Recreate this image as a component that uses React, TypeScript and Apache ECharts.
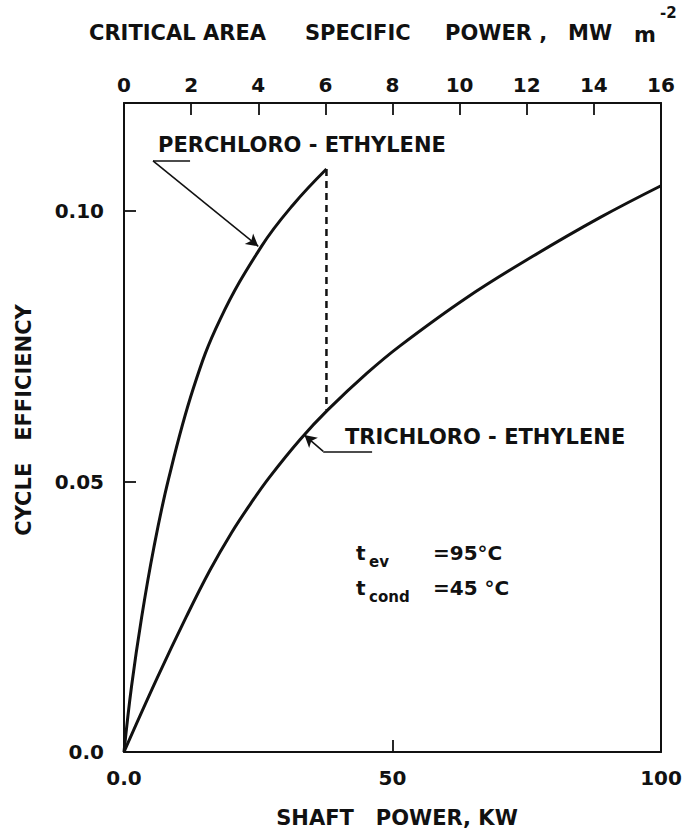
import React, { useEffect, useRef } from "react";
import * as echarts from "echarts";

// Shaft power (kW) vs cycle efficiency
const perchloroX = [0, 1.4, 3.3, 5.5, 8.3, 12.9, 17.9, 25.6, 31.5, 37.7];
const perchloroY = [0, 0.0121, 0.025, 0.0375, 0.0505, 0.0672, 0.08, 0.0935, 0.1012, 0.1078];
const trichloroX = [0, 6.1, 11.7, 16.0, 20.0, 23.5, 27.0, 32.8, 38.0, 45.2, 51.4, 63.8, 76.2, 88.6, 100];
const trichloroY = [0, 0.0135, 0.0252, 0.0336, 0.0405, 0.0458, 0.0507, 0.0578, 0.0633, 0.07, 0.0751, 0.084, 0.0917, 0.0988, 0.1047];
// vertical dashed drop at the end of the perchloro curve
const dropX = [37.7, 37.7];
const dropY = [0.1078, 0.0633];
// leader lines (data coordinates): underline [start, end], pointer [start, end]
const perLeader = [[5.4, 0.1093], [12.3, 0.1093], [5.4, 0.1093], [25.0, 0.0935]];
const triLeader = [[37.1, 0.0556], [46.2, 0.0556], [37.1, 0.0556], [33.6, 0.0586]];

const FONT = "'DejaVu Sans', sans-serif";
const INK = "#111";

export default function App() {
  const ref = useRef<HTMLDivElement>(null);
  useEffect(() => {
    document.body.style.margin = "0";
    const chart = echarts.init(ref.current!, undefined, { renderer: "svg" });
    const lineSeries = (name: string, xs: number[], ys: number[], extra: any = {}) => ({
      name,
      type: "line",
      data: xs.map((x, i) => [x, ys[i]]),
      smooth: 0.4,
      symbol: "none",
      lineStyle: { color: INK, width: 3 },
      ...extra,
    });
    const leader = (pts: number[][]) => ({
      silent: true,
      label: { show: false },
      lineStyle: { color: INK, width: 1.6, type: "solid" },
      symbolSize: [10, 12],
      data: [
        [{ coord: pts[0], symbol: "none" }, { coord: pts[1], symbol: "none" }],
        [{ coord: pts[2], symbol: "none" }, { coord: pts[3], symbol: "arrow" }],
      ],
    });
    const axisLineStyle = { color: INK, width: 2 };
    const tickStyle = { show: true, inside: true, length: 12, lineStyle: { color: INK, width: 1.8 } };
    const lbl = { fontFamily: FONT, color: INK, fontWeight: "bold" as const, fontSize: 20 };
    const t = (text: string, x: number, y: number, fontSize: number, extra: any = {}) => ({
      type: "text",
      x,
      y,
      style: { text, fontSize, fontFamily: FONT, fontWeight: "bold", fill: INK, verticalAlign: "middle", ...extra },
    });
    chart.setOption({
      animation: false,
      backgroundColor: "#fff",
      grid: { left: 124, right: 36, top: 103, bottom: 84 },
      xAxis: [
        {
          type: "value",
          position: "bottom",
          min: 0,
          max: 100,
          interval: 50,
          axisLine: { show: true, onZero: false, lineStyle: axisLineStyle },
          axisTick: tickStyle,
          axisLabel: { ...lbl, margin: 16, formatter: (v: number) => (v === 0 ? "0.0" : String(v)) },
          splitLine: { show: false },
        },
        {
          type: "value",
          position: "top",
          min: 0,
          max: 16,
          interval: 2,
          axisLine: { show: true, onZero: false, lineStyle: axisLineStyle },
          axisTick: tickStyle,
          axisLabel: { ...lbl, margin: 8 },
          splitLine: { show: false },
        },
      ],
      yAxis: [
        {
          type: "value",
          position: "left",
          min: 0,
          max: 0.12,
          interval: 0.05,
          axisLine: { show: true, onZero: false, lineStyle: axisLineStyle },
          axisTick: tickStyle,
          axisLabel: {
            ...lbl,
            margin: 20,
            showMaxLabel: false,
            formatter: (v: number) => (v === 0 ? "0.0" : v.toFixed(2)),
          },
          splitLine: { show: false },
        },
        {
          type: "value",
          position: "right",
          min: 0,
          max: 0.12,
          axisLine: { show: true, onZero: false, lineStyle: axisLineStyle },
          axisTick: { show: false },
          axisLabel: { show: false },
          splitLine: { show: false },
        },
      ],
      series: [
        lineSeries("PERCHLORO - ETHYLENE", perchloroX, perchloroY, { markLine: leader(perLeader) }),
        lineSeries("TRICHLORO - ETHYLENE", trichloroX, trichloroY, { markLine: leader(triLeader) }),
        {
          name: "drop",
          type: "line",
          data: dropX.map((x, i) => [x, dropY[i]]),
          symbol: "none",
          lineStyle: { color: INK, width: 2.5, type: [7, 5] },
        },
      ],
      graphic: [
        t("CRITICAL", 89, 33, 21),
        t("AREA", 203, 33, 21),
        t("SPECIFIC", 305, 33, 21),
        t("POWER ,", 445, 33, 21),
        t("MW", 568, 33, 21),
        t("m", 634, 35, 21),
        t("-2", 660, 13, 15),
        t("SHAFT   POWER, KW", 397, 818, 21, { align: "center" }),
        {
          ...t("CYCLE   EFFICIENCY", 24, 420, 21, { align: "center" }),
          rotation: Math.PI / 2,
        },
        t("PERCHLORO - ETHYLENE", 158, 145, 21),
        t("TRICHLORO - ETHYLENE", 345, 437, 21),
        t("t", 356, 553, 20),
        t("ev", 369, 562, 15),
        t("=95°C", 433, 553, 20),
        t("t", 356, 588, 20),
        t("cond", 369, 597, 15),
        t("=45 °C", 433, 588, 20),
      ],
    });
    return () => chart.dispose();
  }, []);
  return <div ref={ref} style={{ width: 697, height: 836 }} />;
}
